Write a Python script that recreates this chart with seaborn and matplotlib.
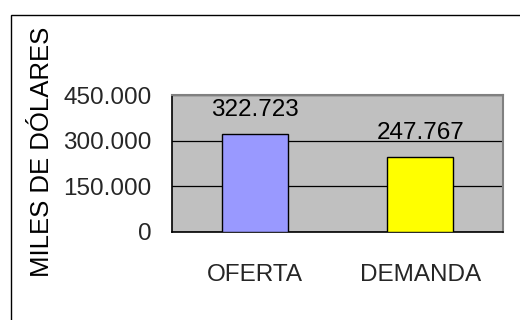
import matplotlib
matplotlib.use("Agg")
import matplotlib.pyplot as plt
from matplotlib.patches import Rectangle
from matplotlib.ticker import FixedLocator, FuncFormatter
import seaborn as sns
import pandas as pd

categories = ["OFERTA", "DEMANDA"]
values = [322723, 247767]
bar_colors = ["#9999FF", "#FFFF00"]
y_ticks = [0, 150000, 300000, 450000]
y_title = "MILES DE DÓLARES"

sns.set_style("white")
plt.rcParams["font.family"] = ["Liberation Sans", "DejaVu Sans"]
FS = 17.5
FS_TITLE = 18.5


def miles(v):
    """Format a number with '.' as thousands separator."""
    return f"{int(round(v)):,}".replace(",", ".")


df = pd.DataFrame({"cat": categories, "val": values})

fig = plt.figure(figsize=(5.2, 3.2), dpi=100)
ax = fig.add_axes([172 / 520, 1 - 232 / 320, (503 - 172) / 520, (232 - 95) / 320])

sns.barplot(data=df, x="cat", y="val", hue="cat", palette=bar_colors,
            saturation=1, width=0.4, edgecolor="black", linewidth=1.0,
            legend=False, ax=ax, zorder=3)

ax.set_facecolor("#C0C0C0")
ax.set_xlim(-0.5, 1.5)
ax.set_ylim(0, 450000)

# gridlines at the value ticks
ax.set_axisbelow(True)
ax.yaxis.grid(True, color="black", linewidth=0.9)
ax.xaxis.grid(False)

# value axis
ax.yaxis.set_major_locator(FixedLocator(y_ticks))
ax.yaxis.set_major_formatter(FuncFormatter(lambda v, p: miles(v)))
ax.tick_params(axis="y", which="major", direction="out", length=6, width=1,
               color="black", pad=8.5, labelsize=FS)

# category axis: labels centred, tick marks at the category boundaries
ax.set_xticks([0, 1])
ax.set_xticklabels(categories)
ax.set_xticks([-0.5, 0.5, 1.5], minor=True)
ax.tick_params(axis="x", which="major", length=0, pad=23, labelsize=FS)
ax.tick_params(axis="x", which="minor", direction="out", length=6.5, width=1,
               color="black")
ax.set_xlabel("")
ax.set_ylabel("")

for side in ("left", "bottom"):
    ax.spines[side].set_visible(True)
    ax.spines[side].set_color("black")
    ax.spines[side].set_linewidth(1.2)
for side in ("top", "right"):
    ax.spines[side].set_visible(True)
    ax.spines[side].set_color("#808080")
    ax.spines[side].set_linewidth(1.5)

# value labels above the bars
for i, v in enumerate(values):
    ax.annotate(miles(v), xy=(i, v), xytext=(0, 12.5), textcoords="offset points",
                ha="center", va="baseline", fontsize=FS, color="black")

fig.text(42 / 520, 1 - 152 / 320, y_title, rotation=90, ha="center",
         va="center", fontsize=FS_TITLE, color="black")

# chart frame
fig.patches.append(Rectangle((10.5 / 520, -0.2), 1.2, 0.2 + (1 - 14.5 / 320),
                             transform=fig.transFigure, fill=False,
                             edgecolor="black", linewidth=1.0))

fig.savefig("out.png", dpi=100)
